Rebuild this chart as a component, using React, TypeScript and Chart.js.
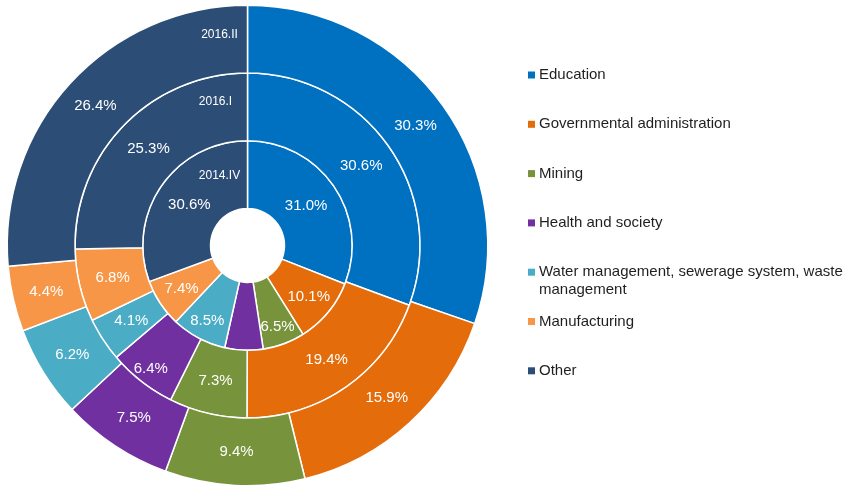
import React, { useEffect, useRef } from 'react';
import { Chart, registerables } from 'chart.js';

Chart.register(...registerables);

// ---- Data ----
const categories = [
  'Education',
  'Governmental administration',
  'Mining',
  'Health and society',
  'Water management, sewerage system, waste management',
  'Manufacturing',
  'Other',
];
const legendLines = [
  ['Education'],
  ['Governmental administration'],
  ['Mining'],
  ['Health and society'],
  ['Water management, sewerage system, waste', 'management'],
  ['Manufacturing'],
  ['Other'],
];
// rings from outer to inner
const periods = ['2016.II', '2016.I', '2014.IV'];
const values2016II = [30.3, 15.9, 9.4, 7.5, 6.2, 4.4, 26.4];
const values2016I = [30.6, 19.4, 7.3, 6.4, 4.1, 6.8, 25.3];
const values2014IV = [31.0, 10.1, 6.5, 5.9, 8.5, 7.4, 30.6];
const unlabeled2014IV = ['Health and society'];

const colors = ['#0070C0', '#E46C0A', '#77933C', '#7030A0', '#4BACC6', '#F79646', '#2C4D75'];

const FONT = '"Liberation Sans", Arial, Helvetica, sans-serif';

// styling: ring title placement and label radial nudges (fraction of ring thickness)
const ringTitleFrac = [0.57, 0.57, 0.48];
const ringTitleDx = [-28, -32, -28];
const labelRadialFrac: Record<string, Record<string, number>> = {
  '2014.IV': {
    'Governmental administration': 0.63,
    Mining: 0.73,
    'Water management, sewerage system, waste management': 0.72,
    Manufacturing: 0.62,
  },
  '2016.I': { 'Health and society': 0.77 },
};

const labelsPlugin = {
  id: 'ringLabels',
  afterDatasetsDraw(chart: any) {
    const ctx = chart.ctx;
    ctx.save();
    ctx.fillStyle = '#ffffff';
    ctx.textAlign = 'center';
    ctx.textBaseline = 'middle';
    chart.data.datasets.forEach((ds: any, di: number) => {
      const meta = chart.getDatasetMeta(di);
      ctx.font = `15px ${FONT}`;
      meta.data.forEach((arc: any, i: number) => {
        const cat = chart.data.labels[i];
        if (ds.unlabeled && ds.unlabeled.includes(cat)) return;
        const { x, y, startAngle, endAngle, innerRadius, outerRadius } = arc.getProps(
          ['x', 'y', 'startAngle', 'endAngle', 'innerRadius', 'outerRadius'],
          true
        );
        const frac = (labelRadialFrac[ds.label] && labelRadialFrac[ds.label][cat]) ?? 0.5;
        const a = (startAngle + endAngle) / 2;
        const r = innerRadius + (outerRadius - innerRadius) * frac;
        ctx.fillText(Number(ds.data[i]).toFixed(1) + '%', x + Math.cos(a) * r, y + Math.sin(a) * r);
      });
      const a0 = meta.data[0];
      if (a0) {
        const { x, y, innerRadius, outerRadius } = a0.getProps(
          ['x', 'y', 'innerRadius', 'outerRadius'],
          true
        );
        ctx.font = `12px ${FONT}`;
        ctx.fillText(
          ds.label,
          x + ringTitleDx[di],
          y - (innerRadius + (outerRadius - innerRadius) * ringTitleFrac[di])
        );
      }
    });
    ctx.restore();
  },
  afterDraw(chart: any) {
    const ctx = chart.ctx;
    ctx.save();
    ctx.textAlign = 'left';
    ctx.textBaseline = 'middle';
    ctx.font = `15px ${FONT}`;
    const x0 = 528;
    const y0 = 75;
    const step = 49.3;
    legendLines.forEach((lines, i) => {
      const y = y0 + i * step;
      ctx.fillStyle = colors[i];
      ctx.fillRect(x0, y - 3.5, 7, 7);
      ctx.fillStyle = '#1f1f1f';
      lines.forEach((t, li) => {
        ctx.fillText(t, x0 + 11, y + li * 18);
      });
    });
    ctx.restore();
  },
};

export default function App() {
  const ref = useRef<HTMLCanvasElement | null>(null);

  useEffect(() => {
    if (!ref.current) return;
    const seriesValues = [values2016II, values2016I, values2014IV];
    const chart = new Chart(ref.current, {
      type: 'doughnut',
      data: {
        labels: categories,
        datasets: periods.map((p, i) => ({
          label: p,
          data: seriesValues[i],
          backgroundColor: colors,
          borderColor: '#ffffff',
          borderWidth: 1.5,
          unlabeled: p === '2014.IV' ? unlabeled2014IV : [],
        })) as any,
      },
      options: {
        responsive: false,
        animation: false,
        events: [],
        cutout: '15.4%',
        layout: { padding: { left: 6.5, right: 357.5, top: 4.5, bottom: 1.5 } },
        plugins: {
          legend: { display: false },
          tooltip: { enabled: false },
          title: { display: false },
        },
      },
      plugins: [labelsPlugin],
    });
    return () => chart.destroy();
  }, []);

  return (
    <div style={{ position: 'absolute', left: 0, top: 0, width: 846, height: 488, background: '#fff' }}>
      <canvas ref={ref} width={846} height={488} />
    </div>
  );
}
